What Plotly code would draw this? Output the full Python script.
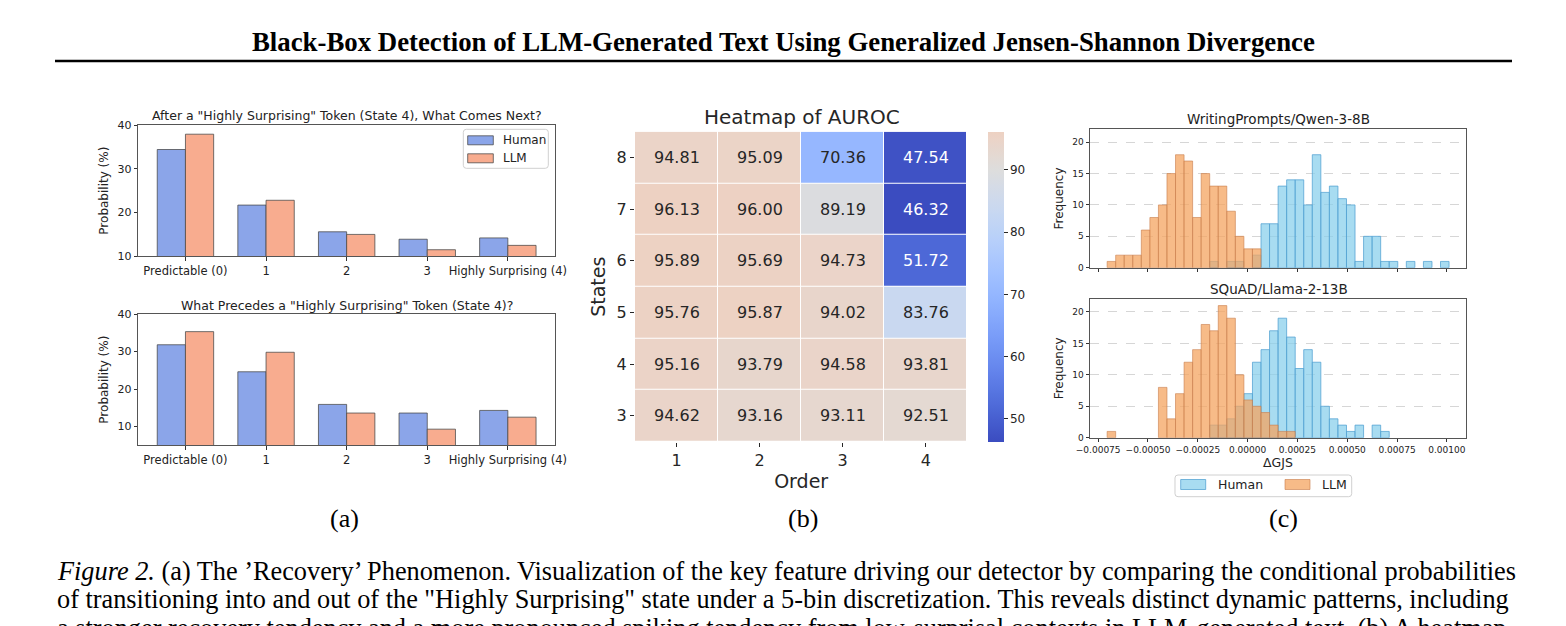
import plotly.graph_objects as go

# ---------------- data ----------------
# (a) conditional transition probabilities (%)
state_labels = ["Predictable (0)", "1", "2", "3", "Highly Surprising (4)"]
state_idx = [0, 1, 2, 3, 4]
after_human = [34.4, 21.7, 15.6, 13.9, 14.2]
after_llm = [37.9, 22.8, 15.0, 11.5, 12.5]
before_human = [31.8, 24.6, 15.9, 13.6, 14.3]
before_llm = [35.3, 29.8, 13.6, 9.3, 12.5]
series_names = ["Human", "LLM"]

# (b) AUROC heatmap (rows = states 3..8, cols = order 1..4)
orders = [1, 2, 3, 4]
states = [3, 4, 5, 6, 7, 8]
auroc = [
    [94.62, 93.16, 93.11, 92.51],
    [95.16, 93.79, 94.58, 93.81],
    [95.76, 95.87, 94.02, 83.76],
    [95.89, 95.69, 94.73, 51.72],
    [96.13, 96.00, 89.19, 46.32],
    [94.81, 95.09, 70.36, 47.54],
]

# (c) histograms of delta GJS (shared bins)
bin_start = -0.000705
bin_width = 0.0000429
wp_llm = [1, 2, 2, 2, 6, 8, 10, 15, 18, 17, 8, 15, 13, 13, 9, 5, 3, 3]
wp_human = [0, 0, 0, 0, 0, 0, 0, 0, 0, 0, 0, 0,
            1, 0, 1, 1, 0, 2, 7, 7, 13, 14, 14, 10, 18, 12, 13, 11, 10,
            1, 5, 5, 1, 1, 0, 1, 0, 1, 0, 1]
sq_llm = [1, 0, 0, 0, 0, 0, 8, 3, 7, 12, 14, 18, 17, 21, 19, 10, 6, 5, 4, 2, 1, 1]
sq_human = [0, 0, 0, 0, 0, 0, 0, 0, 0, 0, 0, 0,
            2, 2, 3, 5, 7, 12, 14, 17, 19, 16, 11, 14, 12, 5, 3, 2, 1, 2, 0, 2, 1]
gjs_ticks = [-0.00075, -0.0005, -0.00025, 0.0, 0.00025, 0.0005, 0.00075, 0.001]

# ---------------- helpers ----------------
W, H = 1566, 626


def fx(px):
    return px / W


def fy(py):
    return 1 - py / H


MORELAND = [
    (0.0, (59, 76, 192)), (0.03125, (68, 90, 204)), (0.0625, (77, 104, 215)),
    (0.09375, (87, 117, 225)), (0.125, (98, 130, 234)), (0.15625, (108, 142, 241)),
    (0.1875, (119, 154, 247)), (0.21875, (130, 165, 251)), (0.25, (141, 176, 254)),
    (0.28125, (152, 185, 255)), (0.3125, (163, 194, 255)), (0.34375, (174, 201, 253)),
    (0.375, (184, 208, 249)), (0.40625, (194, 213, 244)), (0.4375, (204, 217, 238)),
    (0.46875, (213, 219, 230)), (0.5, (221, 221, 221)), (0.53125, (229, 216, 209)),
    (0.5625, (236, 211, 197)), (0.59375, (241, 204, 185)), (0.625, (245, 196, 173)),
    (0.65625, (247, 187, 160)), (0.6875, (247, 177, 148)), (0.71875, (247, 166, 135)),
    (0.75, (244, 154, 123)), (0.78125, (241, 141, 111)), (0.8125, (236, 127, 99)),
    (0.84375, (229, 112, 88)), (0.875, (222, 96, 77)), (0.90625, (213, 80, 66)),
    (0.9375, (203, 62, 56)), (0.96875, (192, 40, 47)), (1.0, (180, 4, 38)),
]


def coolwarm(t):
    t = min(max(t, 0.0), 1.0)
    for (t0, c0), (t1, c1) in zip(MORELAND[:-1], MORELAND[1:]):
        if t0 <= t <= t1:
            f = (t - t0) / (t1 - t0)
            return tuple(c0[i] + f * (c1[i] - c0[i]) for i in range(3))
    return MORELAND[-1][1]


def lum(c):
    vals = []
    for v in c:
        v = v / 255
        vals.append(v / 12.92 if v <= 0.03928 else ((v + 0.055) / 1.055) ** 2.4)
    return 0.2126 * vals[0] + 0.7152 * vals[1] + 0.0722 * vals[2]


flat = [v for row in auroc for v in row]
vmin, vmax, center = min(flat), max(flat), 90.0
vrange = max(vmax - center, center - vmin)
lo, span = center - vrange, 2 * vrange
t0, t1 = (vmin - lo) / span, (vmax - lo) / span
n = 40
colorscale = []
for i in range(n + 1):
    s = i / n
    c = coolwarm(t0 + s * (t1 - t0))
    colorscale.append([s, "rgb(%d,%d,%d)" % tuple(round(v) for v in c)])

FONT = "DejaVu Sans"
SERIF = "Liberation Serif"
HUMAN_A = "#8BA5E9"
LLM_A = "#F8AC8F"
EDGE_A = "rgba(70,70,70,0.75)"
HUMAN_C = "rgba(135,206,235,0.72)"
HUMAN_C_EDGE = "rgba(80,160,210,0.75)"
LLM_C = "rgba(244,164,96,0.75)"
LLM_C_EDGE = "rgba(200,125,75,0.6)"
AXLINE = "#555555"

fig = go.Figure()

# ---------------- (a) bars ----------------
for (hum, llm, xa, ya) in [(after_human, after_llm, "x", "y"),
                           (before_human, before_llm, "x2", "y2")]:
    fig.add_trace(go.Bar(x=state_idx, y=hum, offset=-0.35, width=0.35, name=series_names[0],
                         marker=dict(color=HUMAN_A, line=dict(color=EDGE_A, width=1)),
                         xaxis=xa, yaxis=ya, showlegend=False))
    fig.add_trace(go.Bar(x=state_idx, y=llm, offset=0.0, width=0.35, name=series_names[1],
                         marker=dict(color=LLM_A, line=dict(color=EDGE_A, width=1)),
                         xaxis=xa, yaxis=ya, showlegend=False))

# ---------------- (b) heatmap ----------------
fig.add_trace(go.Heatmap(
    z=auroc, x=orders, y=states, xaxis="x3", yaxis="y3",
    colorscale=colorscale, zmin=vmin, zmax=vmax, xgap=1, ygap=1,
    showscale=True,
    colorbar=dict(x=fx(988.3), xanchor="left", y=fy(286.7), yanchor="middle",
                  len=310 / H, lenmode="fraction", thickness=15.7, thicknessmode="pixels",
                  xpad=0, ypad=0, outlinewidth=0, ticks="outside", ticklen=4,
                  tickcolor="#262626", tickvals=[50, 60, 70, 80, 90],
                  tickfont=dict(family=FONT, size=12, color="#262626")),
))

annotations = []
for r, st in enumerate(states):
    for c, od in enumerate(orders):
        v = auroc[r][c]
        col = coolwarm((v - lo) / span)
        tc = "#262626" if lum(col) > 0.408 else "#FFFFFF"
        annotations.append(dict(x=od, y=st, xref="x3", yref="y3", text="%.2f" % v,
                                showarrow=False, font=dict(family=FONT, size=16, color=tc)))

# ---------------- (c) histograms ----------------
def bars_from_counts(counts):
    xs, ys = [], []
    for i, cnt in enumerate(counts):
        if cnt > 0:
            xs.append(bin_start + (i + 0.5) * bin_width)
            ys.append(cnt)
    return xs, ys


for (hum, llm, xa, ya) in [(wp_human, wp_llm, "x4", "y4"),
                           (sq_human, sq_llm, "x5", "y5")]:
    hx, hy = bars_from_counts(hum)
    lx, ly = bars_from_counts(llm)
    fig.add_trace(go.Bar(x=hx, y=hy, width=bin_width, name=series_names[0],
                         marker=dict(color=HUMAN_C, line=dict(color=HUMAN_C_EDGE, width=1)),
                         xaxis=xa, yaxis=ya, showlegend=False))
    fig.add_trace(go.Bar(x=lx, y=ly, width=bin_width, name=series_names[1],
                         marker=dict(color=LLM_C, line=dict(color=LLM_C_EDGE, width=1)),
                         xaxis=xa, yaxis=ya, showlegend=False))

# ---------------- axes ----------------
common = dict(showline=True, mirror=True, linecolor=AXLINE, linewidth=1, zeroline=False,
              ticks="outside", ticklen=3.5, tickcolor="#333", showgrid=False,
              tickfont=dict(family=FONT, size=11, color="#222"))

xa_bar = dict(common, range=[-0.585, 4.585], tickvals=state_idx, ticktext=state_labels,
              tickfont=dict(family=FONT, size=11.5, color="#222"))
ya_title = dict(text="Probability (%)", standoff=6, font=dict(family=FONT, size=12, color="#222"))
layout_axes = dict(
    xaxis=dict(xa_bar, domain=[fx(138.3), fx(555)], anchor="y"),
    yaxis=dict(common, domain=[fy(256.3), fy(125)], anchor="x", range=[10, 40],
               tickvals=[10, 20, 30, 40], title=ya_title),
    xaxis2=dict(xa_bar, domain=[fx(138.3), fx(555)], anchor="y2"),
    yaxis2=dict(common, domain=[fy(445.3), fy(314)], anchor="x2", range=[5, 40],
                tickvals=[10, 20, 30, 40], title=ya_title),
    xaxis3=dict(domain=[fx(635), fx(967.3)], anchor="y3", range=[0.5, 4.5], tickvals=orders,
                showline=False, zeroline=False, showgrid=False, ticks="outside", ticklen=4,
                tickcolor="#262626", tickfont=dict(family=FONT, size=16, color="#262626"),
                title=dict(text="Order", standoff=5, font=dict(family=FONT, size=19, color="#262626"))),
    yaxis3=dict(domain=[fy(441.7), fy(131.7)], anchor="x3", range=[2.5, 8.5], tickvals=states,
                showline=False, zeroline=False, showgrid=False, ticks="outside", ticklen=4,
                tickcolor="#262626", tickfont=dict(family=FONT, size=16, color="#262626"),
                title=dict(text="States", standoff=5, font=dict(family=FONT, size=19, color="#262626"))),
)

hist_x = dict(common, range=[-0.000791, 0.001096], tickvals=gjs_ticks,
              tickfont=dict(family=FONT, size=9, color="#222"))
hist_y = dict(common, range=[0, 22.05], tickvals=[0, 5, 10, 15, 20], showgrid=True,
              gridcolor="#d6d6d6", griddash="dash", gridwidth=0.8,
              tickfont=dict(family=FONT, size=9, color="#222"),
              title=dict(text="Frequency", standoff=6, font=dict(family=FONT, size=12, color="#222")))
layout_axes.update(
    xaxis4=dict(hist_x, domain=[fx(1090), fx(1466)], anchor="y4", showticklabels=False),
    yaxis4=dict(hist_y, domain=[fy(267.7), fy(129.3)], anchor="x4"),
    xaxis5=dict(hist_x, domain=[fx(1090), fx(1466)], anchor="y5",
                ticktext=[("%.5f" % v).replace("-", "\u2212") for v in gjs_ticks],
                title=dict(text="\u0394GJS", standoff=3, font=dict(family=FONT, size=12.5, color="#222"))),
    yaxis5=dict(hist_y, domain=[fy(437.7), fy(299)], anchor="x5"),
)

# ---------------- text ----------------
def note(x, y, text, size, family=FONT, color="#222", xanchor="center", yanchor="middle"):
    annotations.append(dict(x=fx(x), y=fy(y), xref="paper", yref="paper", text=text,
                            showarrow=False, xanchor=xanchor, yanchor=yanchor,
                            font=dict(family=family, size=size, color=color)))


note(783, 42.5, "<b>Black-Box Detection of LLM-Generated Text Using Generalized Jensen-Shannon Divergence</b>",
     26.8, SERIF, "#000")
note(346.7, 115, "After a \"Highly Surprising\" Token (State 4), What Comes Next?", 12.5)
note(346.7, 305, "What Precedes a \"Highly Surprising\" Token (State 4)?", 12.5)
note(801.7, 117, "Heatmap of AUROC", 20, color="#262626")
note(1278.7, 119.3, "WritingPrompts/Qwen-3-8B", 13.5)
note(1278.7, 289.3, "SQuAD/Llama-2-13B", 13.5)
note(344, 518, "(a)", 26, SERIF, "#000")
note(803, 518, "(b)", 26, SERIF, "#000")
note(1283, 518, "(c)", 26, SERIF, "#000")
note(55, 571.7, "<i>Figure 2.</i> (a) The \u2019Recovery\u2019 Phenomenon. Visualization of the key feature driving "
     "our detector by comparing the conditional probabilities", 26.3, SERIF, "#000", xanchor="left")
note(55, 599.7, "of transitioning into and out of the \"Highly Surprising\" state under a 5-bin discretization. "
     "This reveals distinct dynamic patterns, including", 26.3, SERIF, "#000", xanchor="left")
note(55, 628.5, "a stronger recovery tendency and a more pronounced spiking tendency from low-surprisal "
     "contexts in LLM-generated text. (b) A heatmap", 26.3, SERIF, "#000", xanchor="left")


# ---------------- legends (matplotlib-style boxes) ----------------
def rrect_path(x0, y0, x1, y1, r):
    p = "M%f,%f " % (fx(x0 + r), fy(y0))
    p += "L%f,%f " % (fx(x1 - r), fy(y0))
    p += "Q%f,%f %f,%f " % (fx(x1), fy(y0), fx(x1), fy(y0 + r))
    p += "L%f,%f " % (fx(x1), fy(y1 - r))
    p += "Q%f,%f %f,%f " % (fx(x1), fy(y1), fx(x1 - r), fy(y1))
    p += "L%f,%f " % (fx(x0 + r), fy(y1))
    p += "Q%f,%f %f,%f " % (fx(x0), fy(y1), fx(x0), fy(y1 - r))
    p += "L%f,%f " % (fx(x0), fy(y0 + r))
    p += "Q%f,%f %f,%f Z" % (fx(x0), fy(y0), fx(x0 + r), fy(y0))
    return p


shapes = [dict(type="line", xref="paper", yref="paper", x0=fx(55), x1=fx(1512),
               y0=fy(61), y1=fy(61), line=dict(color="#000", width=2.5))]

# legend for (a)
shapes.append(dict(type="path", xref="paper", yref="paper", path=rrect_path(463.3, 129.3, 548.3, 168.3, 3),
                   fillcolor="rgba(255,255,255,0.85)", line=dict(color="#d0d0d0", width=1)))
for k, (name, colr) in enumerate(zip(series_names, [HUMAN_A, LLM_A])):
    yc = 140.3 + 18 * k
    shapes.append(dict(type="rect", xref="paper", yref="paper", x0=fx(467.7), x1=fx(493.3),
                       y0=fy(yc + 4.5), y1=fy(yc - 4.5), fillcolor=colr,
                       line=dict(color=EDGE_A, width=1)))
    note(501, yc, name, 12, xanchor="left")

# legend for (c)
shapes.append(dict(type="path", xref="paper", yref="paper", path=rrect_path(1175, 475, 1351.7, 496.7, 3),
                   fillcolor="rgba(255,255,255,0.85)", line=dict(color="#d0d0d0", width=1)))
for (name, colr, edge, xp, xt) in [(series_names[0], HUMAN_C, HUMAN_C_EDGE, 1180.7, 1215.7),
                                   (series_names[1], LLM_C, LLM_C_EDGE, 1285, 1320)]:
    shapes.append(dict(type="rect", xref="paper", yref="paper", x0=fx(xp), x1=fx(xp + 25),
                       y0=fy(489.5), y1=fy(479.5), fillcolor=colr, line=dict(color=edge, width=1)))
    note(xt, 484.5, name, 12.5, xanchor="left")

fig.update_layout(
    width=W, height=H, margin=dict(l=0, r=0, t=0, b=0),
    template="none", paper_bgcolor="white", plot_bgcolor="white",
    barmode="overlay", font=dict(family=FONT, color="#222"),
    showlegend=False,
    annotations=annotations,
    shapes=shapes,
    **layout_axes,
)

fig.write_html("out.html", config={"displayModeBar": False},
               post_script="document.body.style.margin='0px';")
